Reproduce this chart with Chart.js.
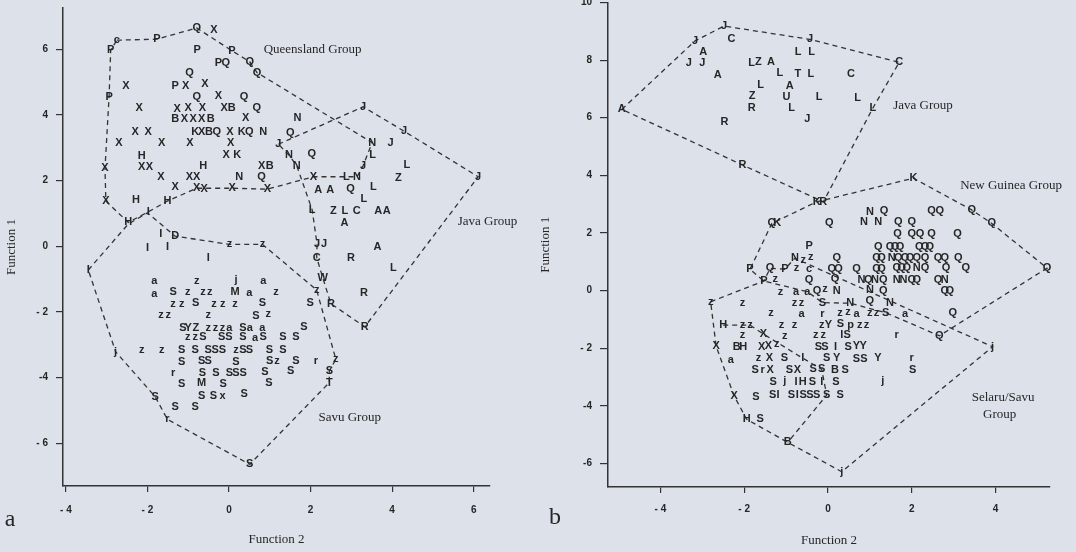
<!DOCTYPE html>
<html>
<head>
<meta charset="utf-8">
<title>Discriminant function plots</title>
<script src="https://cdn.jsdelivr.net/npm/chart.js@4.4.1/dist/chart.umd.min.js"></script>
<style>
  html, body { margin: 0; padding: 0; background: #dce1ea; }
  #wrap { position: relative; width: 1076px; height: 552px; overflow: hidden; background: #dce1ea; }
  canvas { position: absolute; top: 0; }
  #panelA { left: 0; }
  #panelB { left: 538px; }
</style>
</head>
<body>
<div id="wrap">
  <canvas id="panelA" width="538" height="552"></canvas>
  <canvas id="panelB" width="538" height="552"></canvas>
</div>
<script>
// ---------- Panel a: specimen scores [Function 2, Function 1, population code] ----------
const aQueenslandPts = [
  [-2.75,6.28,'c'],[-1.77,6.31,'P'],[-0.79,6.65,'Q'],[-0.37,6.59,'X'],[-2.90,5.98,'P'],[-0.78,5.98,'P'],
  [0.07,5.96,'P'],[-0.26,5.59,'P'],[-0.08,5.59,'Q'],[0.51,5.62,'Q'],[0.69,5.29,'Q'],[-0.97,5.29,'Q'],
  [-2.53,4.88,'X'],[-1.32,4.88,'P'],[-1.06,4.88,'X'],[-0.59,4.94,'X'],[-2.94,4.56,'P'],[-0.79,4.54,'Q'],
  [-0.26,4.58,'X'],[0.37,4.54,'Q'],[-2.20,4.20,'X'],[-1.27,4.18,'X'],[-1.00,4.20,'X'],[-0.65,4.20,'X'],
  [-0.12,4.20,'X'],[0.07,4.20,'B'],[0.68,4.20,'Q'],[1.68,3.90,'N'],[-1.32,3.87,'B'],[-1.09,3.87,'X'],
  [-0.88,3.87,'X'],[-0.67,3.87,'X'],[-0.45,3.87,'B'],[0.41,3.90,'X'],[-2.30,3.49,'X'],[-1.98,3.49,'X'],
  [-0.83,3.47,'K'],[-0.67,3.47,'X'],[-0.49,3.47,'B'],[-0.30,3.47,'Q'],[0.02,3.49,'X'],[0.31,3.49,'K'],
  [0.50,3.49,'Q'],[0.84,3.49,'N'],[1.50,3.46,'Q'],[-2.70,3.14,'X'],[-1.65,3.14,'X'],[-0.96,3.14,'X'],
  [0.04,3.16,'X'],[1.21,3.11,'J'],[-2.14,2.76,'H'],[-0.07,2.78,'X'],[0.20,2.78,'K'],[1.47,2.78,'N'],
  [2.03,2.81,'Q'],[-2.14,2.42,'X'],[-1.95,2.42,'X'],[-0.63,2.45,'H'],[0.80,2.45,'X'],[1.00,2.45,'B'],
  [1.66,2.46,'N'],[-3.04,2.38,'X'],[-1.67,2.12,'X'],[-0.97,2.10,'X'],[-0.79,2.10,'X'],[0.25,2.12,'N'],
  [0.80,2.10,'Q'],[2.07,2.12,'X'],[-1.32,1.80,'X'],[-0.79,1.77,'X'],[-0.61,1.74,'X'],[0.08,1.77,'X'],
  [0.94,1.74,'X'],[-3.02,1.38,'X'],[-2.28,1.41,'H'],[-1.51,1.38,'H'],[-1.98,1.05,'I'],[-2.47,0.73,'H']
];
const aJavaPts = [
  [3.29,4.25,'J'],[4.29,3.51,'J'],[3.51,3.16,'N'],[3.96,3.16,'J'],[3.52,2.78,'L'],[3.29,2.46,'J'],
  [4.36,2.48,'L'],[6.11,2.12,'J'],[4.15,2.07,'Z'],[2.88,2.12,'L'],[3.14,2.12,'N'],[2.19,1.71,'A'],
  [2.48,1.71,'A'],[2.98,1.74,'Q'],[3.54,1.80,'L'],[3.31,1.43,'L'],[2.04,1.11,'L'],[2.56,1.08,'Z'],
  [2.84,1.08,'L'],[3.13,1.08,'C'],[3.66,1.08,'A'],[3.87,1.08,'A'],[2.83,0.70,'A'],[2.16,0.06,'J'],
  [2.33,0.06,'J'],[3.64,-0.03,'A'],[2.15,-0.34,'C'],[2.99,-0.34,'R'],[4.03,-0.65,'L'],[2.30,-0.96,'W'],
  [3.31,-1.41,'R'],[2.50,-1.75,'R'],[3.33,-2.45,'R']
];
const aSavuUpperPts = [
  [-1.67,0.37,'I'],[-1.32,0.31,'D'],[-2.00,-0.04,'I'],[-1.51,-0.01,'I'],[0.01,0.06,'z'],[0.82,0.06,'z'],
  [-0.51,-0.35,'I'],[-3.45,-0.72,'I'],[-1.83,-1.06,'a'],[-0.79,-1.06,'z'],[0.17,-1.03,'j'],[0.84,-1.06,'a'],
  [-1.83,-1.45,'a'],[-1.37,-1.38,'S'],[-1.01,-1.38,'z'],[-0.64,-1.38,'z'],[-0.47,-1.38,'z'],[0.15,-1.38,'M'],
  [0.50,-1.41,'a'],[1.15,-1.38,'z'],[2.15,-1.33,'z'],[-1.37,-1.76,'z'],[-1.16,-1.76,'z'],[-0.82,-1.74,'S'],
  [-0.37,-1.76,'z'],[-0.15,-1.76,'z'],[0.15,-1.76,'z'],[0.82,-1.71,'S'],[1.99,-1.71,'S'],[-1.67,-2.09,'z'],
  [-1.49,-2.09,'z'],[-0.51,-2.09,'z'],[0.66,-2.11,'S'],[0.96,-2.07,'z'],[-1.13,-2.48,'S'],[-1.00,-2.48,'Y'],
  [-0.81,-2.48,'Z'],[-0.51,-2.48,'z'],[-0.33,-2.48,'z'],[-0.16,-2.48,'z'],[0.01,-2.48,'a'],[0.34,-2.48,'S'],
  [0.51,-2.48,'a'],[0.82,-2.48,'a'],[1.84,-2.45,'S']
];
const aSavuLowerPts = [
  [-1.01,-2.77,'z'],[-0.83,-2.77,'z'],[-0.64,-2.77,'S'],[-0.18,-2.77,'S'],[0.00,-2.77,'S'],[0.34,-2.77,'S'],
  [0.64,-2.80,'a'],[0.84,-2.77,'S'],[1.32,-2.77,'S'],[1.64,-2.77,'S'],[-2.78,-3.21,'j'],[-2.14,-3.16,'z'],
  [-1.65,-3.16,'z'],[-1.16,-3.16,'S'],[-0.83,-3.16,'S'],[-0.51,-3.16,'S'],[-0.34,-3.16,'S'],[-0.16,-3.16,'S'],
  [0.17,-3.16,'z'],[0.34,-3.16,'S'],[0.50,-3.16,'S'],[0.99,-3.16,'S'],[1.32,-3.16,'S'],[-1.16,-3.52,'S'],
  [-0.67,-3.49,'S'],[-0.51,-3.49,'S'],[0.17,-3.52,'S'],[1.00,-3.49,'S'],[1.18,-3.49,'z'],[1.64,-3.49,'S'],
  [2.13,-3.49,'r'],[2.62,-3.44,'z'],[-1.37,-3.85,'r'],[-0.65,-3.85,'S'],[-0.32,-3.85,'S'],[0.01,-3.85,'S'],
  [0.17,-3.85,'S'],[0.35,-3.85,'S'],[0.88,-3.82,'S'],[1.51,-3.80,'S'],[2.46,-3.80,'S'],[-1.16,-4.20,'S'],
  [-0.67,-4.17,'M'],[-0.14,-4.20,'S'],[0.98,-4.15,'S'],[2.46,-4.15,'T'],[-1.81,-4.58,'S'],[-0.67,-4.56,'S'],
  [-0.38,-4.56,'S'],[-0.16,-4.56,'x'],[0.37,-4.51,'S'],[-1.32,-4.89,'S'],[-0.83,-4.89,'S'],[-1.51,-5.27,'r'],
  [0.51,-6.64,'S']
];

// Group outlines for panel a (vertices are outermost specimens)
const aQueenslandHull = [
  [-2.75,6.28],[-1.77,6.31],[-0.79,6.65],[0.07,5.96],[0.51,5.62],[0.69,5.29],[3.51,3.16],[3.29,2.46],
  [3.14,2.12],[2.07,2.12],[0.94,1.74],[0.08,1.77],[-0.79,1.77],[-1.51,1.38],[-1.98,1.05],[-2.47,0.73],
  [-3.02,1.38],[-3.04,2.38],[-2.94,4.56],[-2.90,5.98]
];
const aJavaHull = [
  [1.21,3.11],[3.29,4.25],[4.29,3.51],[6.11,2.12],[3.33,-2.45],[2.50,-1.75],[2.30,-0.96],[2.15,-0.34],
  [2.16,0.06],[2.04,1.11],[1.66,2.46],[1.47,2.78]
];
const aSavuHull = [
  [-3.45,-0.72],[-2.47,0.68],[-2.00,1.02],[-1.32,0.31],[0.01,0.06],[0.82,0.06],[2.15,-1.33],[2.62,-3.44],
  [2.46,-3.80],[2.46,-4.15],[0.51,-6.64],[-1.51,-5.27],[-1.81,-4.58],[-2.78,-3.21]
];

const aXTicks = [-4, -2, 0, 2, 4, 6];
const aXTickLabels = ['- 4', '- 2', '0', '2', '4', '6'];
const aYTicks = [-6, -4, -2, 0, 2, 4, 6];
const aYTickLabels = ['- 6', '-4', '- 2', '0', '2', '4', '6'];

// ---------- Panel b ----------
const bJavaPts = [
  [-4.92,6.29,'A'],[-3.17,8.67,'J'],[-2.48,9.18,'J'],[-2.30,8.72,'C'],[-2.98,8.29,'A'],[-3.32,7.91,'J'],
  [-3.00,7.91,'J'],[-1.82,7.91,'L'],[-1.66,7.94,'Z'],[-1.36,7.92,'A'],[-2.63,7.48,'A'],[-1.61,7.14,'L'],
  [-1.81,6.75,'Z'],[-1.82,6.33,'R'],[-2.47,5.86,'R'],[-2.04,4.36,'R'],[-0.43,8.72,'J'],[-0.71,8.29,'L'],
  [-0.39,8.29,'L'],[1.70,7.92,'C'],[-1.15,7.56,'L'],[-0.72,7.52,'T'],[-0.41,7.52,'L'],[0.55,7.52,'C'],
  [-0.91,7.11,'A'],[-0.99,6.73,'U'],[-0.21,6.71,'L'],[0.71,6.69,'L'],[-0.87,6.33,'L'],[1.07,6.33,'L'],
  [-0.49,5.95,'J'],[-0.27,3.08,'K'],[-0.11,3.08,'R']
];
const bGuineaPts = [
  [2.04,3.90,'K'],[-1.34,2.33,'Q'],[-1.21,2.33,'K'],[0.03,2.35,'Q'],[1.00,2.74,'N'],[1.34,2.77,'Q'],
  [2.47,2.77,'Q'],[2.67,2.77,'Q'],[3.43,2.80,'Q'],[0.86,2.37,'N'],[1.20,2.37,'N'],[1.68,2.39,'Q'],
  [2.00,2.37,'Q'],[3.91,2.33,'Q'],[1.66,1.96,'Q'],[2.00,1.96,'Q'],[2.20,1.96,'Q'],[2.47,1.96,'Q'],
  [3.09,1.96,'Q'],[-0.45,1.55,'P'],[1.20,1.52,'Q'],[1.48,1.52,'Q'],[1.60,1.52,'Q'],[1.72,1.52,'Q'],
  [2.18,1.52,'Q'],[2.32,1.52,'Q'],[2.43,1.52,'Q'],[0.21,1.12,'Q'],[-0.79,1.12,'N'],[-0.59,1.06,'z'],
  [-0.41,1.15,'z'],[1.16,1.14,'Q'],[1.28,1.14,'Q'],[1.52,1.14,'N'],[1.68,1.14,'Q'],[1.84,1.14,'Q'],
  [1.96,1.14,'Q'],[2.12,1.14,'Q'],[2.32,1.14,'Q'],[2.63,1.14,'Q'],[2.79,1.14,'Q'],[3.11,1.14,'Q'],
  [-1.86,0.74,'P'],[-1.38,0.77,'Q'],[-1.03,0.74,'P'],[-0.75,0.77,'z'],[-0.45,0.74,'c'],[0.09,0.74,'Q'],
  [0.25,0.74,'Q'],[0.68,0.74,'Q'],[1.16,0.74,'Q'],[1.28,0.74,'Q'],[1.64,0.77,'Q'],[1.76,0.77,'Q'],
  [1.88,0.77,'Q'],[2.12,0.77,'N'],[2.32,0.77,'Q'],[2.82,0.77,'Q'],[3.29,0.77,'Q'],[5.23,0.78,'Q'],
  [-1.53,0.33,'P'],[-1.26,0.39,'z'],[-0.45,0.36,'Q'],[0.17,0.39,'Q'],[0.80,0.36,'N'],[0.96,0.36,'Q'],
  [1.12,0.36,'N'],[1.32,0.36,'Q'],[1.64,0.36,'N'],[1.80,0.36,'N'],[2.00,0.36,'Q'],[2.12,0.36,'Q'],
  [2.63,0.36,'Q'],[2.79,0.36,'N'],[-1.13,-0.04,'z'],[-0.76,-0.04,'a'],[-0.49,-0.04,'a'],[-0.26,-0.01,'Q'],
  [-0.07,0.04,'z'],[0.21,-0.01,'N'],[1.00,0.02,'N'],[1.32,-0.01,'Q'],[2.79,-0.01,'Q'],[2.91,-0.01,'Q']
];
const bSelaruUpperPts = [
  [-2.80,-0.39,'z'],[-2.04,-0.42,'z'],[-0.80,-0.42,'z'],[-0.63,-0.42,'z'],[-0.13,-0.42,'S'],[0.53,-0.44,'N'],
  [1.00,-0.36,'Q'],[1.48,-0.42,'N'],[-1.36,-0.79,'z'],[-0.63,-0.82,'a'],[-0.13,-0.82,'r'],[0.29,-0.79,'z'],
  [0.48,-0.74,'z'],[0.68,-0.82,'a'],[1.00,-0.79,'z'],[1.16,-0.79,'z'],[1.38,-0.77,'S'],[1.84,-0.82,'a'],
  [2.98,-0.77,'Q'],[-2.50,-1.20,'H'],[-2.04,-1.20,'z'],[-1.86,-1.20,'z'],[-1.11,-1.20,'z'],[-0.80,-1.20,'z'],
  [-0.15,-1.20,'z'],[0.01,-1.20,'Y'],[0.30,-1.16,'S'],[0.54,-1.20,'p'],[0.76,-1.20,'z'],[0.92,-1.20,'z'],
  [-2.04,-1.55,'z'],[-1.54,-1.51,'X'],[-1.03,-1.59,'z'],[-0.29,-1.55,'z'],[-0.11,-1.55,'z'],[0.33,-1.55,'I'],
  [0.46,-1.55,'S'],[1.64,-1.55,'r'],[2.66,-1.57,'Q']
];
const bSelaruLowerPts = [
  [-2.67,-1.93,'X'],[-2.18,-1.95,'B'],[-2.02,-1.95,'H'],[-1.58,-1.95,'X'],[-1.42,-1.93,'X'],[-1.22,-1.87,'z'],
  [-0.23,-1.95,'S'],[-0.07,-1.95,'S'],[0.18,-1.95,'I'],[0.48,-1.95,'S'],[0.68,-1.93,'Y'],[0.84,-1.93,'Y'],
  [3.93,-1.95,'j'],[-2.32,-2.41,'a'],[-1.66,-2.35,'z'],[-1.40,-2.35,'X'],[-1.04,-2.35,'S'],[-0.60,-2.35,'I'],
  [-0.03,-2.33,'S'],[0.21,-2.35,'Y'],[0.68,-2.39,'S'],[0.86,-2.39,'S'],[1.19,-2.35,'Y'],[2.00,-2.35,'r'],
  [-1.74,-2.76,'S'],[-1.56,-2.76,'r'],[-1.38,-2.76,'X'],[-0.92,-2.76,'S'],[-0.73,-2.76,'X'],[-0.35,-2.73,'S'],
  [-0.15,-2.73,'S'],[0.17,-2.76,'B'],[0.41,-2.76,'S'],[2.02,-2.76,'S'],[-1.31,-3.17,'S'],[-1.03,-3.13,'j'],
  [-0.76,-3.17,'I'],[-0.60,-3.17,'H'],[-0.37,-3.17,'S'],[-0.15,-3.17,'I'],[0.19,-3.17,'S'],[1.31,-3.13,'j'],
  [-2.24,-3.66,'X'],[-1.72,-3.69,'S'],[-1.32,-3.63,'S'],[-1.19,-3.63,'I'],[-0.87,-3.63,'S'],[-0.73,-3.63,'I'],
  [-0.59,-3.63,'S'],[-0.43,-3.63,'S'],[-0.27,-3.63,'S'],[-0.03,-3.63,'S'],[0.29,-3.63,'S'],[-1.94,-4.47,'H'],
  [-1.62,-4.47,'S'],[-0.96,-5.27,'B'],[0.33,-6.29,'j']
];

const bJavaHull = [
  [-4.92,6.29],[-3.17,8.67],[-2.48,9.18],[-0.43,8.72],[1.70,7.92],[1.07,6.33],[-0.11,3.08],[-2.04,4.36]
];
const bGuineaHull = [
  [-0.27,3.08],[2.04,3.90],[3.43,2.80],[3.91,2.33],[5.23,0.78],[2.66,-1.57],[1.38,-0.77],[0.53,-0.44],
  [-0.13,-0.42],[-0.49,-0.04],[-1.53,0.33],[-1.86,0.74],[-1.34,2.33]
];
const bSelaruHull = [
  [-2.80,-0.39],[-1.53,0.33],[-1.38,0.77],[-1.03,0.74],[-0.79,1.12],[3.93,-1.95],[0.33,-6.29],
  [-0.96,-5.27],[-1.94,-4.47],[-2.24,-3.66],[-2.67,-1.93]
];
// open line splitting the Savu specimens from the Selaru ones
const bSavuDivide = [
  [-2.50,-1.20],[-1.86,-1.20],[-1.54,-1.51],[-0.60,-2.35],[-0.15,-2.73],[-0.03,-3.63],[-0.96,-5.27]
];

const bXTicks = [-4, -2, 0, 2, 4];
const bXTickLabels = ['- 4', '- 2', '0', '2', '4'];
const bYTicks = [-6, -4, -2, 0, 2, 4, 6, 8, 10];
const bYTickLabels = ['-6', '-4', '- 2', '0', '2', '4', '6', '8', '10'];

// ---------- drawing ----------
const INK = '#262626';
const LINE = '#333333';
const TICK_FONT = { family: '"Liberation Sans", Arial, sans-serif', size: 10, weight: 'bold' };
const TITLE_FONT = { family: '"Liberation Serif", "Times New Roman", serif', size: 13 };

// Each specimen is drawn as its population letter at the scaled point position
const letterMarks = {
  id: 'letterMarks',
  afterDatasetsDraw(chart) {
    const ctx = chart.ctx;
    ctx.save();
    ctx.fillStyle = INK;
    ctx.font = 'bold 11px "Liberation Sans", Arial, sans-serif';
    ctx.textAlign = 'center';
    ctx.textBaseline = 'middle';
    chart.data.datasets.forEach((ds, i) => {
      if (!ds.letterMarks) return;
      chart.getDatasetMeta(i).data.forEach((el, j) => ctx.fillText(ds.data[j].t, el.x, el.y));
    });
    ctx.restore();
  }
};

// Group names (placed in data units) and the panel letter
const notes = {
  id: 'notes',
  afterDraw(chart, args, opts) {
    const { ctx, scales } = chart;
    ctx.save();
    ctx.fillStyle = INK;
    ctx.textAlign = 'center';
    ctx.textBaseline = 'middle';
    ctx.font = '13px "Liberation Serif", "Times New Roman", serif';
    (opts.groups || []).forEach(g => {
      ctx.fillText(g.text, scales.x.getPixelForValue(g.x), scales.y.getPixelForValue(g.y));
    });
    if (opts.panel) {
      ctx.font = '24px "Liberation Serif", "Times New Roman", serif';
      ctx.fillText(opts.panel.text, opts.panel.cx, opts.panel.cy);
    }
    ctx.restore();
  }
};

function axisOpts(o) {
  return {
    type: 'linear',
    position: o.position,
    min: o.min,
    max: o.max,
    afterBuildTicks: s => { s.ticks = o.values.map(v => ({ value: v })); },
    afterFit: s => {
      if (o.position === 'left') s.width = o.size; else s.height = o.size;
      s.paddingTop = 0; s.paddingBottom = 0; s.paddingLeft = 0; s.paddingRight = 0;
    },
    ticks: {
      callback: (v, i) => o.labels[i],
      font: TICK_FONT, color: INK, padding: o.pad, autoSkip: false, maxRotation: 0
    },
    grid: { drawOnChartArea: false, drawTicks: true, tickLength: o.tick, color: LINE, lineWidth: 1.2 },
    border: { display: true, color: LINE, width: 1.5 },
    title: { display: true, text: o.title, font: TITLE_FONT, color: INK, padding: o.titlePad }
  };
}

function buildPanel(id, cfg) {
  const datasets = [];
  cfg.hulls.forEach(h => {
    const pts = h.closed ? h.pts.concat([h.pts[0]]) : h.pts;
    datasets.push({
      data: pts.map(p => ({ x: p[0], y: p[1] })),
      showLine: true, borderColor: LINE, borderWidth: 1.3, borderDash: [5, 4],
      pointRadius: 0, fill: false, tension: 0
    });
  });
  cfg.points.forEach(arr => {
    datasets.push({ data: arr.map(p => ({ x: p[0], y: p[1], t: p[2] })), pointRadius: 0, letterMarks: true });
  });
  return new Chart(document.getElementById(id), {
    type: 'scatter',
    data: { datasets },
    options: {
      responsive: false,
      animation: false,
      devicePixelRatio: 1,
      events: [],
      layout: { padding: cfg.padding },
      plugins: {
        legend: { display: false },
        tooltip: { enabled: false },
        notes: { groups: cfg.groups, panel: cfg.panel }
      },
      scales: { x: axisOpts(cfg.x), y: axisOpts(cfg.y) }
    },
    plugins: [letterMarks, notes]
  });
}

buildPanel('panelA', {
  padding: { top: 8, right: 48, bottom: 0, left: 0 },
  hulls: [
    { pts: aQueenslandHull, closed: true },
    { pts: aJavaHull, closed: true },
    { pts: aSavuHull, closed: true }
  ],
  points: [aQueenslandPts, aJavaPts, aSavuUpperPts, aSavuLowerPts],
  groups: [
    { text: 'Queensland Group', x: 2.05, y: 6.0 },
    { text: 'Java Group', x: 6.34, y: 0.74 },
    { text: 'Savu Group', x: 2.96, y: -5.23 }
  ],
  panel: { text: 'a', cx: 10, cy: 520 },
  x: { position: 'bottom', min: -4.07, max: 6.40, values: aXTicks, labels: aXTickLabels,
       size: 66, tick: 6, pad: 12, title: 'Function 2', titlePad: { top: 0, bottom: 5 } },
  y: { position: 'left', min: -7.30, max: 7.26, values: aYTicks, labels: aYTickLabels,
       size: 63, tick: 7, pad: 8, title: 'Function 1', titlePad: { top: 4, bottom: 0 } }
});

buildPanel('panelB', {
  padding: { top: 2.5, right: 26, bottom: 0, left: 0 },
  hulls: [
    { pts: bJavaHull, closed: true },
    { pts: bGuineaHull, closed: true },
    { pts: bSelaruHull, closed: true },
    { pts: bSavuDivide, closed: false }
  ],
  points: [bJavaPts, bGuineaPts, bSelaruUpperPts, bSelaruLowerPts],
  groups: [
    { text: 'Java Group', x: 2.27, y: 6.41 },
    { text: 'New Guinea Group', x: 4.37, y: 3.63 },
    { text: 'Selaru/Savu', x: 4.18, y: -3.70 },
    { text: 'Group', x: 4.10, y: -4.32 }
  ],
  panel: { text: 'b', cx: 17, cy: 518 },
  x: { position: 'bottom', min: -5.25, max: 5.30, values: bXTicks, labels: bXTickLabels,
       size: 65, tick: 6, pad: 10, title: 'Function 2', titlePad: { top: 0, bottom: 4 } },
  y: { position: 'left', min: -6.82, max: 10, values: bYTicks, labels: bYTickLabels,
       size: 70, tick: 8, pad: 8, title: 'Function 1', titlePad: { top: 0, bottom: 0 } }
});
</script>
</body>
</html>
